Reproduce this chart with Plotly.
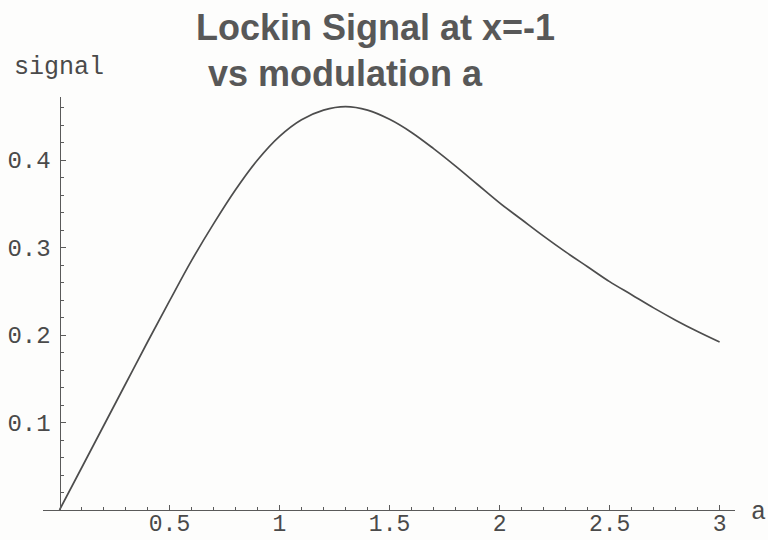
import plotly.graph_objects as go

# modulation amplitude a
a_vals = [0.0, 0.1, 0.2, 0.3, 0.4, 0.5, 0.6, 0.7, 0.8, 0.9, 1.0,
          1.1, 1.2, 1.3, 1.4, 1.5, 1.6, 1.7, 1.8, 1.9, 2.0,
          2.1, 2.2, 2.3, 2.4, 2.5, 2.6, 2.7, 2.8, 2.9, 3.0]
# lock-in signal
signal_vals = [0.0, 0.048, 0.096, 0.144, 0.192, 0.239, 0.285, 0.327, 0.366, 0.400, 0.427,
               0.446, 0.457, 0.461, 0.457, 0.4465, 0.4315, 0.413, 0.393, 0.372, 0.351,
               0.332, 0.313, 0.295, 0.278, 0.261, 0.246, 0.231, 0.217, 0.204, 0.192]

x_ticks = [0.5, 1, 1.5, 2, 2.5, 3]
x_ticktext = ["0.5", "1", "1.5", "2", "2.5", "3"]
y_ticks = [0.1, 0.2, 0.3, 0.4]
y_ticktext = ["0.1", "0.2", "0.3", "0.4"]

title_line1 = "Lockin Signal at x=-1"
title_line2 = "vs modulation a"

W, H = 768, 540
L, R, T, B = 43, 33, 97, 30
plot_w = W - L - R
plot_h = H - T - B

axis_col = "#5a5a5a"
text_col = "#4a4a4a"
mono = "Liberation Mono, Courier New, monospace"

fig = go.Figure()
fig.add_trace(go.Scatter(
    x=a_vals, y=signal_vals, mode="lines", line_shape="spline",
    line=dict(color="#4d4d4d", width=1.7), hoverinfo="skip", showlegend=False))

def px_x(p):
    return (p - L) / plot_w

def px_y(p):
    return (H - B - p) / plot_h

fig.update_layout(
    width=W, height=H, autosize=False,
    margin=dict(l=L, r=R, t=T, b=B, pad=0, autoexpand=False),
    paper_bgcolor="#fdfdfc", plot_bgcolor="#fdfdfc",
    showlegend=False,
    xaxis=dict(
        range=[-0.075, 3.07], showgrid=False, zeroline=False, automargin=False,
        showline=True, linecolor=axis_col, linewidth=1.2,
        ticks="inside", ticklen=5, tickwidth=1, tickcolor=axis_col,
        tickvals=x_ticks, ticktext=x_ticktext,
        tickfont=dict(family=mono, size=23, color=text_col),
        ticklabelstandoff=-8,
        minor=dict(tickvals=[round(0.1 * i, 1) for i in range(1, 31)],
                   ticks="inside", ticklen=3, tickcolor=axis_col, tickwidth=1),
        fixedrange=True,
    ),
    yaxis=dict(
        range=[0, 0.472], showgrid=False, zeroline=False, automargin=False,
        anchor="free", position=px_x(59.5),
        showline=True, linecolor=axis_col, linewidth=1.2,
        ticks="inside", ticklen=5, tickwidth=1, tickcolor=axis_col,
        tickvals=y_ticks, ticktext=y_ticktext,
        tickfont=dict(family=mono, size=24, color=text_col),
        ticklabelstandoff=4,
        minor=dict(tickvals=[round(0.02 * i, 2) for i in range(1, 24)],
                   ticks="inside", ticklen=3, tickcolor=axis_col, tickwidth=1),
        fixedrange=True,
    ),
    annotations=[
        dict(text=title_line1, xref="paper", yref="paper",
             x=px_x(194), y=px_y(27), xanchor="left", yanchor="middle",
             showarrow=False,
             font=dict(family="Liberation Sans, Arial, sans-serif", size=36, color="#585858", weight="bold")),
        dict(text=title_line2, xref="paper", yref="paper",
             x=px_x(206), y=px_y(73), xanchor="left", yanchor="middle",
             showarrow=False,
             font=dict(family="Liberation Sans, Arial, sans-serif", size=36, color="#585858", weight="bold")),
        dict(text="signal", xref="paper", yref="paper",
             x=px_x(12), y=px_y(68), xanchor="left", yanchor="middle",
             showarrow=False, font=dict(family=mono, size=25, color=text_col)),
        dict(text="a", xref="paper", yref="paper",
             x=px_x(749), y=px_y(512), xanchor="left", yanchor="middle",
             showarrow=False, font=dict(family=mono, size=25, color=text_col)),
    ],
)

fig.write_html("out.html", config={"responsive": False, "displayModeBar": False},
               post_script="document.body.style.margin='0';document.body.style.overflow='hidden';")
